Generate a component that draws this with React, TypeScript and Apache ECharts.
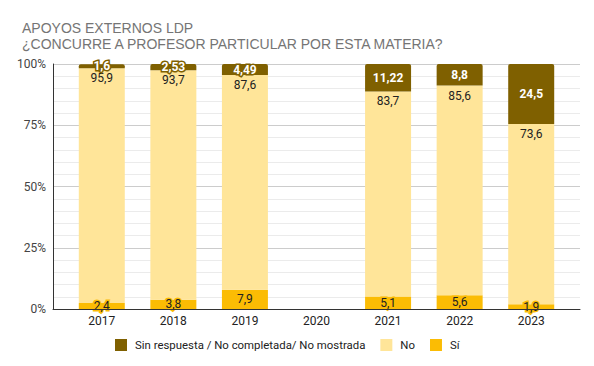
import React, { useEffect, useRef } from "react";
import * as echarts from "echarts";

const years = ["2017", "2018", "2019", "2020", "2021", "2022", "2023"];
const siValues: (number | null)[] = [2.4, 3.8, 7.9, null, 5.1, 5.6, 1.9];
const noValues: (number | null)[] = [95.9, 93.7, 87.6, null, 83.7, 85.6, 73.6];
const sinValues: (number | null)[] = [1.6, 2.53, 4.49, null, 11.22, 8.8, 24.5];
const yTicks = [0, 25, 50, 75, 100];

const seriesNames = ["Sin respuesta / No completada/ No mostrada", "No", "Sí"];
const colors = { sin: "#7f6000", no: "#ffe599", si: "#fbbc04" };
const FONT = 'Arial, "Liberation Sans", sans-serif';
const RFONT = 'Roboto, Arial, sans-serif';

const fmt = (p: any) => (p.value == null ? "" : String(p.value).replace(".", ","));

export default function App() {
  const ref = useRef<HTMLDivElement>(null);
  useEffect(() => {
    if (!ref.current) return;
    const chart = echarts.init(ref.current, undefined, { renderer: "svg" });
    chart.setOption({
      animation: false,
      textStyle: { fontFamily: RFONT },
      title: {
        text: "APOYOS EXTERNOS LDP\n¿CONCURRE A PROFESOR PARTICULAR POR ESTA MATERIA?",
        left: 17,
        top: 15,
        textStyle: {
          fontFamily: FONT,
          fontSize: 14,
          fontWeight: "normal",
          color: "#757575",
          lineHeight: 16,
        },
      },
      legend: {
        data: seriesNames,
        left: 115,
        top: 339,
        padding: 0,
        icon: "rect",
        itemWidth: 12,
        itemHeight: 12,
        itemGap: 15,
        textStyle: { fontFamily: RFONT, fontSize: 11.4, color: "#222", padding: [0, 0, 0, 3] },
      },
      grid: [
        { left: 53, right: 14, top: 64, bottom: 57, containLabel: false },
        { left: 66, right: 27, top: 64, bottom: 57, containLabel: false },
      ],
      xAxis: [
        {
          gridIndex: 0,
          type: "value",
          min: 0,
          max: 1,
          axisLine: { show: true, onZero: false, lineStyle: { color: "#333", width: 1 } },
          axisTick: { show: false },
          axisLabel: { show: false },
          splitLine: { show: false },
          z: 5,
        },
        {
          gridIndex: 1,
          type: "category",
          data: years,
          axisLine: { show: false },
          axisTick: { show: false },
          splitLine: { show: false },
          axisLabel: {
            color: "#222",
            fontSize: 12,
            fontFamily: RFONT,
            margin: 6,
          },
        },
      ],
      yAxis: [
        {
          gridIndex: 0,
          type: "value",
          min: yTicks[0],
          max: yTicks[yTicks.length - 1],
          interval: 25,
          axisLine: { show: true, lineStyle: { color: "#333", width: 1 } },
          axisTick: { show: false },
          axisLabel: {
            formatter: "{value}%",
            color: "#444",
            fontSize: 12,
            fontFamily: RFONT,
            margin: 7,
          },
          splitLine: { show: true, lineStyle: { color: "#cccccc", width: 1 } },
          minorTick: { show: false, splitNumber: 5 },
          minorSplitLine: { show: true, lineStyle: { color: "#ebebeb", width: 1 } },
        },
        {
          gridIndex: 1,
          type: "value",
          min: 0,
          max: 100,
          show: false,
        },
      ],
      series: [
        {
          name: "Sí",
          type: "bar",
          stack: "total",
          xAxisIndex: 1,
          yAxisIndex: 1,
          barWidth: 46,
          data: siValues,
          itemStyle: { color: colors.si },
          z: 3,
          label: {
            show: true,
            position: "inside",
            formatter: fmt,
            color: "#222",
            fontSize: 12,
            fontFamily: RFONT,
            textBorderColor: colors.si,
            textBorderWidth: 3,
          },
        },
        {
          name: "No",
          type: "bar",
          stack: "total",
          xAxisIndex: 1,
          yAxisIndex: 1,
          barWidth: 46,
          data: noValues,
          itemStyle: { color: colors.no },
          z: 3,
          label: {
            show: true,
            position: "insideTop",
            distance: 4,
            formatter: fmt,
            color: "#222",
            fontSize: 12,
            fontFamily: RFONT,
          },
        },
        {
          name: seriesNames[0],
          type: "bar",
          stack: "total",
          xAxisIndex: 1,
          yAxisIndex: 1,
          barWidth: 46,
          data: sinValues,
          itemStyle: { color: colors.sin, borderRadius: [2, 2, 0, 0] },
          z: 3,
          label: {
            show: true,
            position: "inside",
            formatter: fmt,
            color: "#fff",
            fontSize: 12,
            fontWeight: "bold",
            fontFamily: RFONT,
            textBorderColor: colors.sin,
            textBorderWidth: 3,
          },
        },
      ],
    });
    return () => chart.dispose();
  }, []);
  return (
    <div
      ref={ref}
      style={{ position: "fixed", left: 0, top: 0, width: 594, height: 366, background: "#fff" }}
    />
  );
}
